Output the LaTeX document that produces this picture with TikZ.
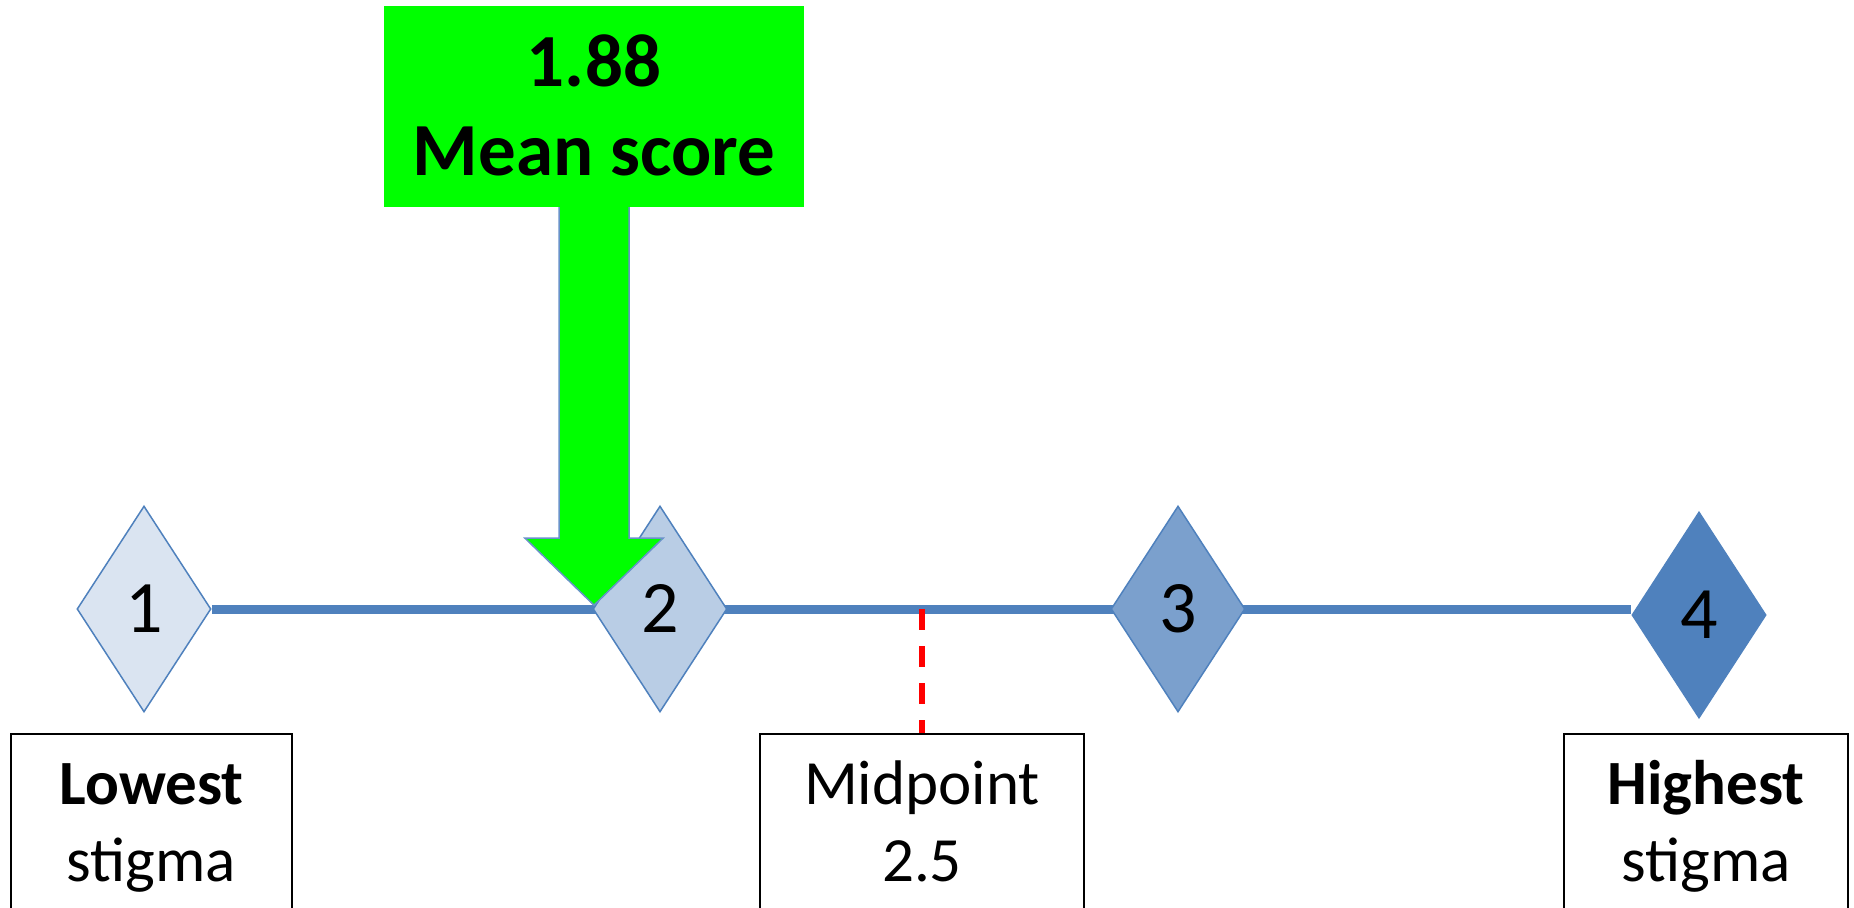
\documentclass[tikz,border=0pt]{standalone}
\usepackage{fontspec}
\setmainfont{Carlito}
\usetikzlibrary{shapes.geometric,backgrounds}
\definecolor{axisblue}{HTML}{4F81BD}
\definecolor{arrowblue}{HTML}{6892C8}
\definecolor{lightfill}{HTML}{DAE4F1}
\definecolor{midfill}{HTML}{B9CDE5}
\definecolor{darkfill}{HTML}{7BA0CD}
\definecolor{calloutgreen}{HTML}{00FF00}
\definecolor{midred}{HTML}{FF0000}
\begin{document}
\begin{tikzpicture}[x=1pt,y=-1pt,
  scorept/.style={diamond, draw=axisblue, line width=1.5pt,
    minimum width=134pt, minimum height=206pt, inner sep=0pt,
    font=\fontsize{74}{89}\selectfont, text height=47pt, text depth=0pt},
  % two-line labels: height counts from the last baseline
  labelbox/.style={draw=black, line width=2pt, fill=white, align=center,
    font=\fontsize{63}{77}\selectfont, text height=122pt, text depth=14pt,
    inner sep=0pt, minimum height=186pt},
  scaleline/.style={draw=axisblue, line width=9pt},
  middash/.style={draw=midred, line width=6pt, dash pattern=on 21pt off 16pt},
  callout/.style={fill=calloutgreen, minimum width=420pt, minimum height=201pt,
    inner sep=0pt, align=center, font=\bfseries\fontsize{75}{89}\selectfont,
    text height=137pt, text depth=0pt},
  calloutarrow/.style={draw=arrowblue, line width=1.5pt, fill=calloutgreen, line join=miter}
]
\useasboundingbox (0,0) rectangle (1854,907);
\clip (0,0) rectangle (1854,907);

% scale points 1 to 4
\node[scorept, fill=lightfill] (s1) at (144,609) {1};
\node[scorept, fill=midfill]   (s2) at (660,609) {2};
\node[scorept, fill=darkfill]  (s3) at (1178,609) {3};
\node[scorept, fill=axisblue]  (s4) at (1699,615) {4};

% end and midpoint labels
\node[labelbox, minimum width=281pt] (low)  at (151.5,827) {\textbf{Lowest}\\stigma};
\node[labelbox, minimum width=324pt] (mid)  at (922,827)   {Midpoint\\2.5};
\node[labelbox, minimum width=284pt] (high) at (1706,827)  {\textbf{Highest}\\stigma};

% scale axis and midpoint marker behind the points
\begin{scope}[on background layer]
  \draw[scaleline] (s1.east) -- (s1.east -| s4.west);
  \draw[middash] (mid.north |- s1.east) -- (mid.north);
\end{scope}

% mean score callout with its down arrow
\node[callout] (mean) at (594,106.5) {1.88\\Mean score};
\path[calloutarrow] ([xshift=-35pt]mean.south) -- ++(0,331) -- ++(-34,0)
  -- ++(69,67) -- ++(69,-67) -- ++(-34,0) -- ++(0,-331);
\end{tikzpicture}
\end{document}
